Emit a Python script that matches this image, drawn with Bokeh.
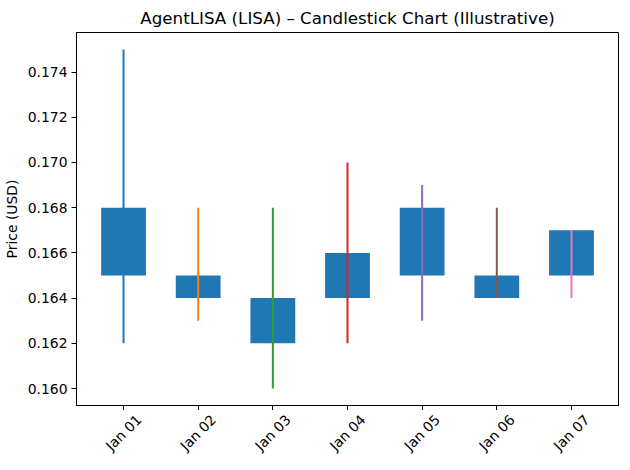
import math
from bokeh.plotting import figure
from bokeh.layouts import column
from bokeh.models import FixedTicker, Range1d, ColumnDataSource
from bokeh.core.properties import value
from bokeh.embed import file_html
from bokeh.resources import INLINE

# Illustrative daily candles
dates = ["Jan 01", "Jan 02", "Jan 03", "Jan 04", "Jan 05", "Jan 06", "Jan 07"]
lows = [0.162, 0.163, 0.160, 0.162, 0.163, 0.164, 0.164]
highs = [0.175, 0.168, 0.168, 0.170, 0.169, 0.168, 0.167]
body_low = [0.165, 0.164, 0.162, 0.164, 0.165, 0.164, 0.165]
body_high = [0.168, 0.165, 0.164, 0.166, 0.168, 0.165, 0.167]
wick_colors = ["#1f77b4", "#ff7f0e", "#2ca02c", "#d62728", "#9467bd", "#8c564b", "#e377c2"]
y_ticks = [0.160, 0.162, 0.164, 0.166, 0.168, 0.170, 0.172, 0.174]

idx = list(range(len(dates)))
src = ColumnDataSource(dict(x=idx, lo=lows, hi=highs, b0=body_low, b1=body_high, c=wick_colors))

font = "DejaVu Sans"

p = figure(width=622, height=410, output_backend="svg", toolbar_location=None,
           x_range=Range1d(-0.63, 6.63), y_range=Range1d(0.15925, 0.17575),
           min_border_left=73, min_border_right=4, min_border_top=24, min_border_bottom=0)

p.title.text = "AgentLISA (LISA) \u2013 Candlestick Chart (Illustrative)"
p.title.align = "center"
p.title.text_font = font
p.title.text_font_size = "16.7px"
p.title.text_font_style = "normal"
p.title.text_color = "black"
p.title.standoff = 10

p.vbar(x="x", bottom="b0", top="b1", width=0.6, source=src, fill_color="#1f77b4", line_color=None)
p.segment(x0="x", y0="lo", x1="x", y1="hi", line_color="c", line_width=2, source=src)

p.xgrid.visible = False
p.ygrid.visible = False
p.outline_line_color = "black"
p.outline_line_alpha = 1
p.outline_line_width = 1

p.xaxis.ticker = FixedTicker(ticks=idx)
p.xaxis.major_label_overrides = {i: "" for i in idx}
p.yaxis.ticker = FixedTicker(ticks=y_ticks)
p.yaxis.major_label_overrides = {t: "%.3f" % t for t in y_ticks}
p.yaxis.axis_label = "Price (USD)"

for ax in (p.xaxis, p.yaxis):
    ax.axis_line_color = "black"
    ax.major_tick_line_color = "black"
    ax.major_tick_out = 5
    ax.major_tick_in = 0
    ax.minor_tick_line_color = None
    ax.major_label_text_font = font
    ax.major_label_text_font_size = "13.9px"
    ax.major_label_text_color = "black"
    ax.axis_label_text_font = font
    ax.axis_label_text_font_size = "13.9px"
    ax.axis_label_text_font_style = "normal"
    ax.axis_label_text_color = "black"
    ax.major_label_standoff = 4
p.xaxis.major_label_standoff = 0
p.xaxis.major_label_text_font_size = "1px"

# strip below the chart holding the rotated date labels (shares the x scale)
strip = figure(width=622, height=44, output_backend="svg", toolbar_location=None,
               x_range=p.x_range, y_range=Range1d(0, 44),
               min_border_left=73, min_border_right=4, min_border_top=0, min_border_bottom=0)
strip.axis.visible = False
strip.grid.visible = False
strip.outline_line_color = None
strip.title.visible = False
lab_src = ColumnDataSource(dict(x=idx, t=dates))
strip.text(x="x", y=22, text="t", source=lab_src, angle=math.pi / 4,
           text_align="center", text_baseline="middle",
           text_font=value(font), text_font_size="13.9px", text_color="black")

layout = column(p, strip, spacing=0)
open("out.html", "w").write(file_html(layout, INLINE))
